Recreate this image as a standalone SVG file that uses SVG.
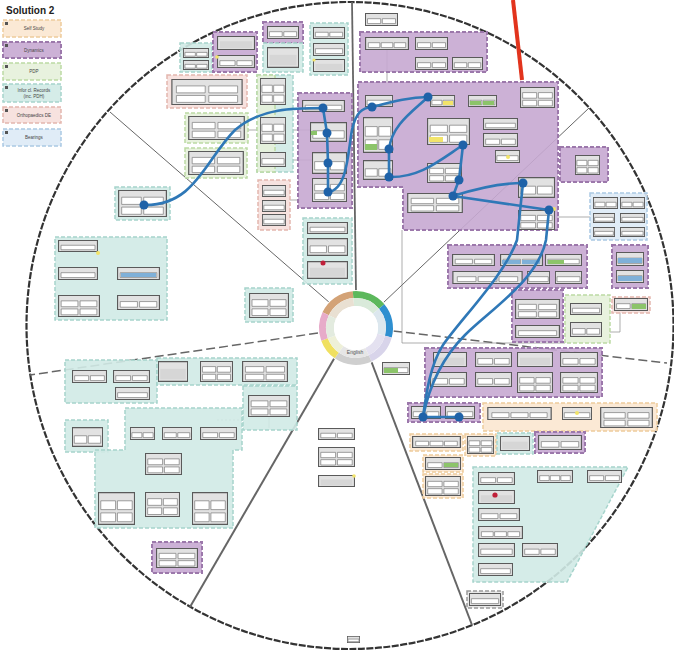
<svg xmlns="http://www.w3.org/2000/svg" xmlns:xlink="http://www.w3.org/1999/xlink" width="674" height="653" viewBox="0 0 674 653">
<style>
.o{fill:#e2e2e2;stroke:#5a5a5a;stroke-width:1.2;vector-effect:non-scaling-stroke}
.c{fill:#fff;stroke:#7a7a7a;stroke-width:0.7;vector-effect:non-scaling-stroke}
.pu{fill:#c6a8d1;fill-opacity:0.9;stroke:#9c78ab;stroke-width:2;stroke-dasharray:4 2}
.te{fill:#d0eae6;fill-opacity:0.9;stroke:#a6d4cc;stroke-width:1.5;stroke-dasharray:4 2}
.gr{fill:#e5f1da;fill-opacity:0.9;stroke:#bcdaa4;stroke-width:1.5;stroke-dasharray:4 2}
.pe{fill:#fbe7d0;fill-opacity:0.9;stroke:#eecb9c;stroke-width:1.5;stroke-dasharray:4 2}
.pk{fill:#f6dfdb;fill-opacity:0.9;stroke:#e4b6ae;stroke-width:1.5;stroke-dasharray:4 2}
.bl{fill:#ddeaf6;fill-opacity:0.9;stroke:#abc9e4;stroke-width:1.5;stroke-dasharray:4 2}
.gy{fill:#e8e8e8;stroke:#9a9a9a;stroke-width:1.5;stroke-dasharray:4 2}
.rad{stroke:#666;fill:none}
.thin{stroke:#8a8a8a;stroke-width:0.7;fill:none}
.bc{stroke:#2f78b7;stroke-width:2.6;fill:none;stroke-linecap:round}
.dot{fill:#1f62a8}
.yc{fill:#f2e46a}
.gc{fill:#8cc46a}
.bcell{fill:#7fb0d8}
.lg{font-family:"Liberation Sans",Arial,sans-serif;font-size:4.5px;fill:#444;text-anchor:middle}
</style>
<defs>
<symbol id="n1" viewBox="0 0 40 16" preserveAspectRatio="none"><rect class="o" x="0.5" y="0.5" width="39" height="15"/><rect class="c" x="3" y="7" width="34" height="6"/></symbol>
<symbol id="n2" viewBox="0 0 40 16" preserveAspectRatio="none"><rect class="o" x="0.5" y="0.5" width="39" height="15"/><rect class="c" x="3" y="7" width="16" height="6"/><rect class="c" x="21" y="7" width="16" height="6"/></symbol>
<symbol id="n3" viewBox="0 0 40 16" preserveAspectRatio="none"><rect class="o" x="0.5" y="0.5" width="39" height="15"/><rect class="c" x="3" y="7" width="10.5" height="6"/><rect class="c" x="14.75" y="7" width="10.5" height="6"/><rect class="c" x="26.5" y="7" width="10.5" height="6"/></symbol>
<symbol id="n4" viewBox="0 0 40 30" preserveAspectRatio="none"><rect class="o" x="0.5" y="0.5" width="39" height="29"/><rect class="c" x="3" y="8" width="16" height="8"/><rect class="c" x="21" y="8" width="16" height="8"/><rect class="c" x="3" y="19" width="16" height="8"/><rect class="c" x="21" y="19" width="16" height="8"/></symbol>
<symbol id="nE" viewBox="0 0 40 16" preserveAspectRatio="none"><rect class="o" x="0.5" y="0.5" width="39" height="15"/><rect x="3" y="6" width="34" height="8" fill="#d6d6d6"/></symbol>
</defs>
<rect width="674" height="653" fill="#fff"/>
<circle cx="350" cy="325.5" r="323.5" fill="#fff" stroke="#333" stroke-width="2.2" stroke-dasharray="7 1.5"/>

<g id="dividers">
<path class="rad" stroke-width="1.8" d="M352,2 L356,292"/>
<path class="rad" stroke-width="1" d="M110,112 L330,303"/>
<path class="rad" stroke-width="1" d="M589,108 L383,303"/>
<path class="rad" stroke-width="1.5" stroke-dasharray="9 4" d="M393,331 L667,363"/>
<path class="rad" stroke-width="1.5" stroke-dasharray="9 4" d="M318,333 L30,375"/>
<path class="rad" stroke="#444" stroke-width="2" d="M342,345 L190,607"/>
<path class="rad" stroke="#444" stroke-width="2" d="M365,345 L472,625"/>
</g>

<g id="legend">
<text x="6" y="14" font-family="Liberation Sans,Arial,sans-serif" font-size="10" font-weight="bold" fill="#222">Solution 2</text>
<rect class="pe" x="3" y="20" width="58" height="17"/><rect x="5" y="22" width="3" height="3" fill="#555"/><text class="lg" x="34" y="30">Self Study</text>
<rect class="pu" x="3" y="42" width="58" height="16"/><rect x="5" y="44" width="3" height="3" fill="#555"/><text class="lg" x="34" y="52">Dynamics</text>
<rect class="gr" x="3" y="63" width="58" height="17"/><rect x="5" y="65" width="3" height="3" fill="#555"/><text class="lg" x="34" y="73">PDP</text>
<rect class="te" x="3" y="84" width="58" height="18"/><rect x="5" y="86" width="3" height="3" fill="#555"/><text class="lg" x="34" y="92">Infor cl. Records</text><text class="lg" x="34" y="98">(inc. PDH)</text>
<rect class="pk" x="3" y="107" width="58" height="16"/><rect x="5" y="109" width="3" height="3" fill="#555"/><text class="lg" x="34" y="117">Orthopaedics DE</text>
<rect class="bl" x="3" y="129" width="58" height="17"/><rect x="5" y="131" width="3" height="3" fill="#555"/><text class="lg" x="34" y="139">Bearings</text>
</g>

<g id="thin-connectors">
<path class="thin" d="M402,230 V343 H565"/>
<path class="thin" d="M387,50 V82"/>
<path class="thin" d="M590,217 H558"/>
<path class="thin" d="M620,312 V332 H610"/>
<path class="thin" d="M293,100 H300"/>
<path class="thin" d="M293,130 H310"/>
<path class="thin" d="M293,160 H312"/>
<path class="thin" d="M248,130 H257"/>
<path class="thin" d="M290,200 H300"/>
<path class="thin" stroke-dasharray="2 2" d="M217,420 H243"/>
<path class="thin" d="M269,417 V428"/>
</g>

<!-- top-left sector -->
<g id="tlA"><rect class="te" x="180" y="43" width="32" height="29"/><use href="#n2" x="183" y="48" width="26" height="10"/><use href="#n2" x="183" y="60" width="26" height="10"/></g>
<g id="tlB"><rect class="pu" x="213" y="32" width="44" height="40"/><use href="#nE" x="217" y="36" width="38" height="14"/><use href="#n2" x="217" y="55" width="38" height="13"/><circle cx="217" cy="57" r="1.8" class="yc"/></g>
<g id="tlC"><rect class="pu" x="263" y="22" width="40" height="21"/><use href="#n2" x="267" y="26" width="32" height="13"/><rect class="te" x="263" y="43" width="40" height="29"/><use href="#nE" x="267" y="47" width="32" height="21"/></g>
<g id="tlD"><rect class="te" x="310" y="23" width="38" height="52"/><use href="#n2" x="313" y="27" width="32" height="12"/><use href="#n1" x="313" y="43" width="32" height="13"/><use href="#nE" x="313" y="59" width="32" height="13"/><circle cx="314" cy="60" r="1.6" class="yc"/></g>
<g id="tlE"><rect class="pk" x="167" y="75" width="80" height="33"/><use href="#n4" x="171" y="79" width="72" height="26"/></g>
<g id="tlF"><rect class="te" x="257" y="75" width="36" height="97"/><rect class="gr" x="257" y="75" width="18" height="97" stroke="none"/><use href="#n4" x="260" y="78" width="26" height="27"/><use href="#n4" x="260" y="117" width="26" height="27"/><use href="#n1" x="260" y="152" width="26" height="15"/></g>
<g id="tlG"><rect class="gr" x="185" y="113" width="63" height="30"/><use href="#n4" x="188" y="116" width="57" height="24"/></g>
<g id="tlH"><rect class="gr" x="185" y="148" width="62" height="30"/><use href="#n4" x="188" y="151" width="56" height="24"/></g>
<g id="tlI"><rect class="pu" x="298" y="93" width="54" height="115"/><use href="#n1" x="302" y="100" width="43" height="12"/><use href="#n2" x="310" y="122" width="37" height="20"/><rect class="gc" x="311" y="131" width="6" height="4"/><use href="#n2" x="312" y="152" width="35" height="22"/><use href="#n4" x="312" y="178" width="35" height="24"/></g>
<g id="tlJ"><rect class="pk" x="258" y="180" width="32" height="50"/><use href="#n1" x="262" y="185" width="24" height="12"/><use href="#n1" x="262" y="200" width="24" height="12"/><use href="#n1" x="262" y="214" width="24" height="12"/></g>
<g id="tlK"><rect class="te" x="115" y="187" width="55" height="33"/><use href="#n4" x="118" y="190" width="49" height="27"/></g>
<g id="tlL"><rect class="te" x="303" y="218" width="49" height="66"/><use href="#n1" x="307" y="222" width="41" height="12"/><use href="#n2" x="307" y="238" width="41" height="18"/><use href="#nE" x="307" y="261" width="41" height="18"/><circle cx="323" cy="263" r="2.5" fill="#c0203a"/></g>

<!-- top-right sector -->
<g id="trS"><use href="#n2" x="365" y="13" width="33" height="13"/></g>
<g id="trM"><rect class="pu" x="360" y="32" width="127" height="40"/><use href="#n3" x="365" y="37" width="44" height="13"/><use href="#n2" x="415" y="37" width="33" height="13"/><use href="#n2" x="415" y="57" width="33" height="13"/><use href="#n2" x="452" y="57" width="31" height="13"/></g>
<g id="trN"><path class="pu" d="M358,82 H558 V230 H403 V187 H358 Z"/>
<use href="#n1" x="365" y="95" width="28" height="12"/>
<use href="#n2" x="430" y="95" width="25" height="12"/><rect class="yc" x="443" y="101" width="10" height="4"/>
<use href="#n2" x="468" y="95" width="29" height="12"/><rect class="gc" x="470" y="101" width="11" height="4"/><rect class="gc" x="483" y="101" width="11" height="4"/>
<use href="#n4" x="520" y="87" width="35" height="21"/>
<use href="#n4" x="363" y="117" width="30" height="36"/><rect class="gc" x="365" y="144" width="12" height="6"/>
<use href="#n4" x="427" y="118" width="43" height="27"/><rect class="yc" x="429" y="137" width="14" height="5"/>
<use href="#n1" x="483" y="118" width="35" height="12"/>
<use href="#n2" x="483" y="133" width="35" height="14"/>
<use href="#n1" x="495" y="150" width="25" height="13"/><circle cx="508" cy="157" r="2" class="yc"/>
<use href="#n2" x="363" y="160" width="30" height="20"/>
<use href="#n4" x="427" y="163" width="35" height="20"/>
<use href="#n4" x="407" y="193" width="56" height="20"/>
<use href="#n2" x="518" y="177" width="37" height="21"/>
<use href="#n4" x="518" y="210" width="37" height="20"/><circle cx="554" cy="209" r="2" class="yc"/>
</g>
<g id="trO"><rect class="pu" x="560" y="147" width="48" height="35"/><use href="#n4" x="575" y="155" width="25" height="20"/></g>
<g id="trP"><rect class="bl" x="590" y="193" width="57" height="47"/><use href="#n2" x="593" y="197" width="25" height="12"/><use href="#n2" x="620" y="197" width="25" height="12"/><use href="#n1" x="593" y="213" width="22" height="10"/><use href="#n1" x="620" y="213" width="25" height="10"/><use href="#n1" x="593" y="227" width="22" height="10"/><use href="#n1" x="620" y="227" width="25" height="10"/></g>

<!-- right sector -->
<g id="rQ"><rect class="pu" x="448" y="245" width="139" height="43"/><use href="#n2" x="452" y="254" width="43" height="12"/><use href="#n2" x="500" y="254" width="43" height="12"/><rect class="bcell" x="502" y="260" width="18" height="4"/><rect class="bcell" x="522" y="260" width="18" height="4"/><use href="#n1" x="545" y="254" width="37" height="12"/><rect class="gc" x="548" y="260" width="16" height="4"/><use href="#n3" x="452" y="271" width="71" height="13"/><use href="#n1" x="527" y="271" width="23" height="13"/><use href="#n1" x="555" y="271" width="27" height="13"/></g>
<g id="rR"><rect class="pu" x="612" y="245" width="36" height="43"/><use href="#n1" x="616" y="252" width="28" height="14"/><rect class="bcell" x="618" y="258" width="24" height="5"/><use href="#n1" x="616" y="270" width="28" height="13"/><rect class="bcell" x="618" y="276" width="24" height="5"/></g>
<g id="rS"><rect class="pu" x="512" y="290" width="51" height="52"/><use href="#n4" x="515" y="299" width="45" height="20"/><use href="#n1" x="515" y="325" width="45" height="13"/></g>
<g id="rT"><rect class="gr" x="565" y="295" width="45" height="48"/><use href="#n1" x="570" y="303" width="32" height="12"/><use href="#n2" x="570" y="322" width="32" height="15"/></g>
<g id="rU"><rect class="pk" x="612" y="297" width="38" height="16"/><use href="#n2" x="614" y="298" width="34" height="13"/><rect class="gc" x="632" y="304" width="14" height="5"/></g>
<g id="rV"><use href="#n1" x="382" y="362" width="28" height="13"/><rect class="gc" x="384" y="368" width="14" height="5"/></g>
<g id="rW"><rect class="pu" x="425" y="348" width="177" height="49"/>
<use href="#nE" x="433" y="352" width="34" height="15"/><use href="#n2" x="475" y="352" width="37" height="15"/><use href="#nE" x="517" y="352" width="36" height="15"/><use href="#n2" x="560" y="352" width="38" height="15"/>
<use href="#n2" x="430" y="372" width="37" height="15"/><use href="#n2" x="475" y="372" width="37" height="15"/><use href="#n4" x="517" y="372" width="36" height="21"/><use href="#n4" x="560" y="372" width="38" height="21"/></g>
<g id="rX"><rect class="pu" x="408" y="403" width="72" height="19"/><use href="#n2" x="411" y="406" width="30" height="13"/><use href="#n2" x="445" y="406" width="30" height="13"/></g>
<g id="rY"><rect class="pe" x="483" y="403" width="174" height="28"/><use href="#n3" x="487" y="407" width="65" height="13"/><use href="#n1" x="562" y="407" width="30" height="13"/><circle cx="577" cy="413" r="2" class="yc"/><use href="#n4" x="600" y="407" width="53" height="21"/></g>

<!-- lower-right sector -->
<g id="Z1"><rect class="pe" x="410" y="434" width="53" height="17"/><use href="#n3" x="412" y="436" width="49" height="12"/></g>
<g id="Z2"><rect class="pe" x="465" y="434" width="31" height="22"/><use href="#n4" x="467" y="436" width="27" height="18"/></g>
<g id="Z3"><rect class="te" x="497" y="433" width="36" height="21"/><use href="#nE" x="500" y="436" width="30" height="15"/></g>
<g id="Z4"><rect class="pu" x="535" y="432" width="50" height="21"/><use href="#n2" x="538" y="435" width="44" height="15"/></g>
<g id="Z5"><rect class="pe" x="423" y="455" width="40" height="17"/><use href="#n2" x="425" y="457" width="36" height="13"/><rect class="gc" x="444" y="463" width="14" height="4"/></g>
<g id="Z6"><rect class="pe" x="423" y="474" width="40" height="24"/><use href="#n4" x="425" y="476" width="36" height="20"/></g>
<g id="Z7"><path class="te" d="M473,467 H628 L567,582 H473 Z"/>
<use href="#n2" x="478" y="472" width="37" height="13"/><use href="#n3" x="537" y="470" width="36" height="13"/><use href="#n2" x="587" y="470" width="35" height="13"/>
<use href="#nE" x="478" y="490" width="37" height="14"/><circle cx="495" cy="495" r="2.6" fill="#c0203a"/>
<use href="#n2" x="478" y="508" width="42" height="13"/>
<use href="#n3" x="478" y="526" width="45" height="13"/>
<use href="#n1" x="478" y="543" width="37" height="14"/><use href="#n2" x="522" y="543" width="36" height="14"/>
<use href="#n1" x="478" y="563" width="35" height="13"/></g>
<g id="Z8"><rect class="gy" x="467" y="591" width="36" height="17"/><use href="#n1" x="469" y="593" width="32" height="13"/></g>

<!-- bottom sector -->
<g id="bA"><use href="#n2" x="318" y="428" width="37" height="12"/></g>
<g id="bB"><use href="#n4" x="318" y="447" width="37" height="20"/></g>
<g id="bC"><use href="#nE" x="318" y="475" width="37" height="12"/><circle cx="354" cy="476" r="1.8" class="yc"/></g>
<g id="bD"><use href="#n1" x="347" y="636" width="13" height="7"/></g>

<!-- lower-left sector -->
<g id="llA1"><rect class="te" x="65" y="360" width="92" height="43"/><use href="#n2" x="72" y="370" width="35" height="13"/><use href="#n2" x="113" y="370" width="37" height="13"/><use href="#n1" x="115" y="387" width="35" height="13"/></g>
<g id="llA2"><rect class="te" x="157" y="358" width="140" height="27"/><use href="#nE" x="158" y="361" width="30" height="21"/><use href="#n4" x="200" y="361" width="33" height="21"/><use href="#n4" x="242" y="361" width="46" height="21"/></g>
<g id="llA3"><rect class="te" x="243" y="386" width="54" height="44"/><use href="#n4" x="248" y="395" width="42" height="22"/></g>
<g id="llB"><rect class="te" x="65" y="420" width="43" height="32"/><use href="#n2" x="72" y="427" width="31" height="20"/></g>
<g id="llC"><path class="te" d="M125,408 H242 V450 H233 V528 H95 V450 H125 Z"/>
<use href="#n2" x="130" y="427" width="25" height="13"/><use href="#n2" x="162" y="427" width="30" height="13"/><use href="#n2" x="200" y="427" width="37" height="13"/>
<use href="#n4" x="145" y="453" width="37" height="22"/>
<use href="#n4" x="98" y="492" width="37" height="33"/><use href="#n4" x="145" y="492" width="35" height="25"/><use href="#n4" x="192" y="492" width="36" height="33"/></g>
<g id="llD"><rect class="pu" x="152" y="542" width="50" height="31"/><use href="#n4" x="156" y="548" width="42" height="20"/></g>

<!-- left sector -->
<g id="lB1"><rect class="te" x="55" y="237" width="112" height="83"/><use href="#n1" x="58" y="240" width="40" height="12"/><circle cx="98" cy="253" r="2" class="yc"/><use href="#n1" x="58" y="267" width="40" height="13"/><use href="#n1" x="117" y="267" width="43" height="13"/><rect class="bcell" x="121" y="273" width="35" height="4"/><use href="#n4" x="58" y="295" width="42" height="22"/><use href="#n2" x="117" y="295" width="43" height="15"/></g>
<g id="lB2"><rect class="te" x="245" y="288" width="48" height="34" stroke="#efc79a"/><use href="#n4" x="249" y="293" width="40" height="25"/></g>

<g id="hub">
<circle cx="356" cy="328" r="38" fill="#fff"/>
<g fill="none" stroke-width="7">
<path stroke="#d3a276" d="M325.64,313.84 A33.5,33.5 0 0 1 353.08,294.63"/>
<path stroke="#5cb85c" d="M353.08,294.63 A33.5,33.5 0 0 1 381.66,306.47"/>
<path stroke="#2e8fd0" d="M381.66,306.47 A33.5,33.5 0 0 1 388.36,336.67"/>
<path stroke="#d8d4ea" d="M388.36,336.67 A33.5,33.5 0 0 1 370.16,358.36"/>
<path stroke="#cfcfcf" d="M370.16,358.36 A33.5,33.5 0 0 1 336.78,355.44"/>
<path stroke="#f0e060" d="M336.78,355.44 A33.5,33.5 0 0 1 324.52,339.46"/>
<path stroke="#e7abc9" d="M324.52,339.46 A33.5,33.5 0 0 1 325.64,313.84"/>
</g>
<g fill="none" stroke-width="8">
<path stroke="#e9e0d2" d="M332.44,317.01 A26,26 0 0 1 353.73,302.10"/>
<path stroke="#d9eada" d="M353.73,302.10 A26,26 0 0 1 375.92,311.29"/>
<path stroke="#dce7ee" d="M375.92,311.29 A26,26 0 0 1 381.11,334.73"/>
<path stroke="#e4e1f0" d="M381.11,334.73 A26,26 0 0 1 366.99,351.56"/>
<path stroke="#e6e6e6" d="M366.99,351.56 A26,26 0 0 1 341.09,349.30"/>
<path stroke="#eef0d8" d="M341.09,349.30 A26,26 0 0 1 331.57,336.89"/>
<path stroke="#e3ebdf" d="M331.57,336.89 A26,26 0 0 1 332.44,317.01"/>
</g>
<circle cx="356" cy="328" r="22" fill="#fff"/>
<text x="355" y="354" font-family="Liberation Sans,Arial,sans-serif" font-size="5" fill="#555" text-anchor="middle">English</text>
</g>

<g id="blue-connectors">
<path class="bc" d="M144,205 C195,206 205,160 235,130 C260,108 295,108 323,108"/>
<path class="bc" d="M323,108 L327,133 L328,163 L328,192"/>
<path class="bc" d="M328,192 C348,190 348,150 352,130 C356,112 362,108 372,107"/>
<path class="bc" d="M372,107 C395,101 410,97 428,97"/>
<path class="bc" d="M428,97 C412,112 392,125 389,149"/>
<path class="bc" d="M389,149 L389,177"/>
<path class="bc" d="M389,177 C420,178 440,160 463,145"/>
<path class="bc" d="M463,145 L459,180 L453,196"/>
<path class="bc" d="M453,196 C478,188 500,183 523,183"/>
<path class="bc" d="M453,196 L549,210"/>
<path class="bc" d="M523,183 L517,240 C505,275 460,320 443,345 C430,365 426,395 423,417"/>
<path class="bc" d="M549,210 L546,240 C538,280 490,310 465,335 C440,360 428,392 423,417"/>
<path class="bc" d="M423,417 L459,417"/>
<circle class="dot" cx="144" cy="205" r="4.5"/>
<circle class="dot" cx="323" cy="108" r="4.5"/>
<circle class="dot" cx="327" cy="133" r="4.5"/>
<circle class="dot" cx="328" cy="163" r="4.5"/>
<circle class="dot" cx="328" cy="192" r="4.5"/>
<circle class="dot" cx="372" cy="107" r="4.5"/>
<circle class="dot" cx="428" cy="97" r="4.5"/>
<circle class="dot" cx="389" cy="149" r="4.5"/>
<circle class="dot" cx="389" cy="177" r="4.5"/>
<circle class="dot" cx="463" cy="145" r="4.5"/>
<circle class="dot" cx="459" cy="180" r="4.5"/>
<circle class="dot" cx="453" cy="196" r="4.5"/>
<circle class="dot" cx="523" cy="183" r="4.5"/>
<circle class="dot" cx="549" cy="210" r="4.5"/>
<circle class="dot" cx="423" cy="417" r="4.5"/>
<circle class="dot" cx="459" cy="417" r="4.5"/>
</g>

<path d="M513,0 L522,80" stroke="#e2341d" stroke-width="4" fill="none"/>
</svg>
